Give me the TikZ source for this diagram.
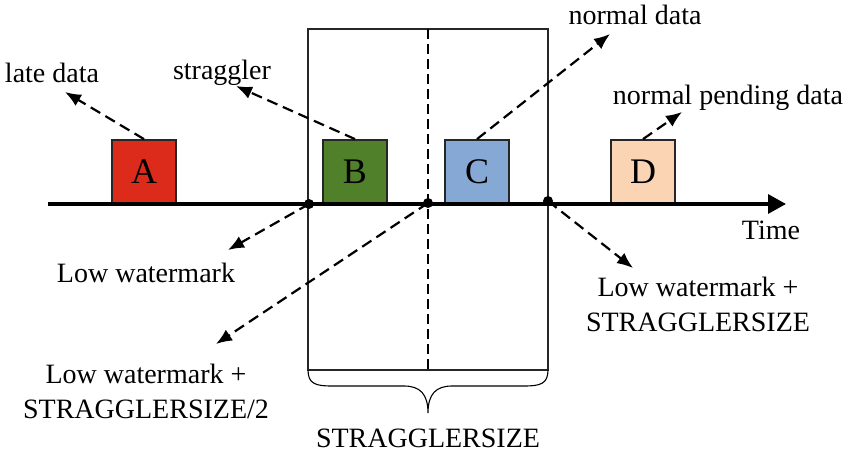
\documentclass[tikz,border=0pt]{standalone}
\usepackage{fontspec}
\setmainfont{Liberation Serif}
\usetikzlibrary{arrows.meta}
\definecolor{cA}{RGB}{220,43,26}
\definecolor{cB}{RGB}{80,128,42}
\definecolor{cC}{RGB}{133,168,213}
\definecolor{cD}{RGB}{251,212,180}
\tikzset{
  databox/.style={draw=black!85, line width=1.8pt, minimum width=64pt, minimum height=64pt, inner sep=0pt, font=\fontsize{36}{40}\selectfont},
  lbl/.style={font=\fontsize{28}{33}\selectfont, inner sep=0pt, align=center},
  dasharrow/.style={line width=2.2pt, dash pattern=on 11pt off 6pt, -{Latex[length=16pt,width=13pt]}},
  wdot/.style={circle, fill=black, minimum size=10pt, inner sep=0pt},
}
\begin{document}
\begin{tikzpicture}[x=1pt,y=-1pt]
\useasboundingbox (0,0) rectangle (848,455);
% window rectangle
\draw[line width=1.8pt, black!85] (308,29) rectangle (548,370);
\draw[line width=2.5pt, dash pattern=on 10pt off 5pt] (428,29) -- (428,370);
% brace
\draw[line width=1.1pt] (308,370) .. controls (308,384) and (316,386) .. (332,386) -- (404,386) .. controls (420,386) and (428,394) .. (428,413)
  .. controls (428,394) and (436,386) .. (452,386) -- (524,386) .. controls (540,386) and (548,384) .. (548,370);
% boxes
\node[databox, fill=cA] (A) at (144,172) {A};
\node[databox, fill=cB] (B) at (355,172) {B};
\node[databox, fill=cC] (C) at (477,172) {C};
\node[databox, fill=cD] (D) at (643,172) {D};
% timeline
\coordinate (t0) at (48,204);
\coordinate (t1) at (786,204);
\draw[line width=3.2pt, -{Triangle[length=18pt,width=19pt]}] (t0) -- (t1);
% dots
\node[wdot] (w1) at (309,204) {};
\node[wdot] (w2) at (428,203) {};
\node[wdot] (w3) at (548,201) {};
% labels
\node[lbl] (late) at (52,73) {late data};
\node[lbl] (strag) at (222,73) {straggler};
\node[lbl] (nd) at (635,15) {normal data};
\node[lbl] (npd) at (728,98) {normal pending data};
\node[lbl] (time) at (771,230) {Time};
\node[lbl] (lw) at (146,273) {Low watermark};
\node[lbl] (lwh) at (146,391) {Low watermark +\\[2pt]STRAGGLERSIZE/2};
\node[lbl] (lwf) at (698,304) {Low watermark +\\[2pt]STRAGGLERSIZE};
\node[lbl] (ss) at (428,438) {STRAGGLERSIZE};
% arrow end points
\coordinate (eA) at (65,92);
\coordinate (eB) at (236,86);
\coordinate (eC) at (610,34);
\coordinate (eD) at (682,112);
\coordinate (e1) at (228,250);
\coordinate (e2) at (216,344);
\coordinate (e3) at (633,268);
% dashed arrows
\draw[dasharrow] (A.north) -- (eA);
\draw[dasharrow] (B.north) -- (eB);
\draw[dasharrow] (C.north) -- (eC);
\draw[dasharrow] (D.north) -- (eD);
\draw[dasharrow] (w1.center) -- (e1);
\draw[dasharrow] (w2.center) -- (e2);
\draw[dasharrow] (w3.center) -- (e3);
\end{tikzpicture}
\end{document}
